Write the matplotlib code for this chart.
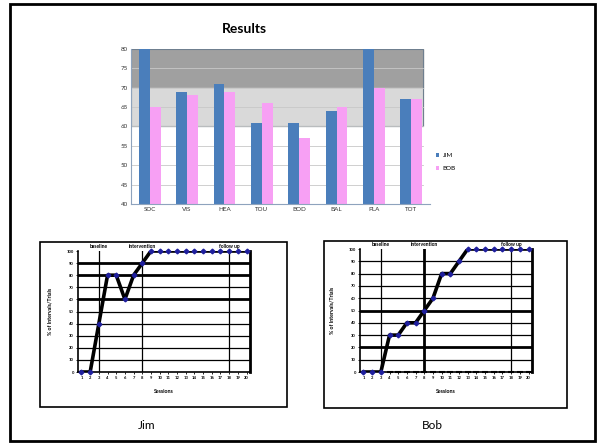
import matplotlib.pyplot as plt
from matplotlib.patches import Rectangle
import numpy as np

W, H = 602, 444

# wyniki w obszarach
categories = ['SOC', 'VIS', 'HEA', 'TOU', 'BOD', 'BAL', 'PLA', 'TOT']
jim_scores = [80, 69, 71, 61, 61, 64, 80, 67]
bob_scores = [65, 68, 69, 66, 57, 65, 70, 67]

# sesje i procent interwalow
sessions = list(range(1, 21))
jim_pct = [0, 0, 40, 80, 80, 60, 80, 90, 100, 100,
           100, 100, 100, 100, 100, 100, 100, 100, 100, 100]
bob_pct = [0, 0, 0, 30, 30, 40, 40, 50, 60, 80,
           80, 90, 100, 100, 100, 100, 100, 100, 100, 100]
bob_zero_sessions = list(range(4, 21))
bob_zero = [0] * len(bob_zero_sessions)

phase_names = ['baseline', 'intervention', 'follow up']
phase_starts = [3, 8, 18]

plt.rcParams['font.family'] = ['Lato', 'DejaVu Sans']

fig = plt.figure(figsize=(W / 100, H / 100), dpi=100)


def px_axes(x0, y0, x1, y1):
    return fig.add_axes([x0 / W, 1 - y1 / H, (x1 - x0) / W, (y1 - y0) / H])


def px_rect(x0, y0, x1, y1, lw, color='black'):
    fig.patches.append(Rectangle((x0 / W, 1 - y1 / H), (x1 - x0) / W, (y1 - y0) / H,
                                 transform=fig.transFigure, fill=False,
                                 edgecolor=color, linewidth=lw))


# ramka calosci i ramki wykresow
px_rect(10, 4, 595, 441, 2.0)
px_rect(40, 242, 287, 407, 1.2)
px_rect(324, 241, 567, 408, 1.2)

# --- wykres slupkowy ---
ax = px_axes(131, 49, 430, 204)
x = np.arange(len(categories))
bw = 0.29
ax.axhspan(70, 80, xmin=0, xmax=0.975, color='#a0a0a0', zorder=0)
ax.axhspan(60, 70, xmin=0, xmax=0.975, color='#d9d9d9', zorder=0)
ax.add_patch(Rectangle((-0.5, 60), 7.8, 20, fill=False, edgecolor='#6f7f8f', lw=0.8, zorder=1))
for yv in range(45, 80, 5):
    ax.plot([-0.5, 7.3], [yv, yv], color='#c8c8c8', lw=0.6, zorder=1)
ax.bar(x - bw / 2, jim_scores, bw, color='#4a7ebb', label='JIM', zorder=2)
ax.bar(x + bw / 2, bob_scores, bw, color='#f7a0f4', label='BOB', zorder=2)
ax.set_xlim(-0.5, 7.5)
ax.set_ylim(40, 80)
ax.set_yticks(range(40, 81, 5))
ax.set_xticks(x)
ax.set_xticklabels(categories)
ax.tick_params(labelsize=4.5, length=0, colors='#333333', pad=2)
for s in ['top', 'right']:
    ax.spines[s].set_visible(False)
ax.spines['left'].set_color('#8ea3bd')
ax.spines['bottom'].set_color('#8ea3bd')
ax.legend(loc='center left', bbox_to_anchor=(1.0, 0.27), fontsize=4.5, frameon=False,
          handlelength=0.6, handleheight=0.6, labelspacing=1.2, handletextpad=0.5)
fig.text(244 / W, 1 - 29 / H, 'Results', ha='center', va='center', fontsize=10,
         fontweight='bold')


# --- wykresy liniowe ---
def session_chart(box, values, thick, phase_lw):
    a = px_axes(*box)
    a.set_xlim(0.6, 20.4)
    a.set_ylim(0, 100)
    for yv in range(10, 100, 10):
        a.axhline(yv, color='black', lw=2.0 if yv in thick else 0.9, zorder=1)
    for xs, lw in zip(phase_starts, phase_lw):
        a.axvline(xs, color='black', lw=lw, zorder=1)
    for name, xs in zip(phase_names, phase_starts):
        a.text(xs, 101.5, name, ha='center', va='bottom', fontsize=3.6, fontweight='bold')
    a.plot(sessions, values, color='black', lw=2.6, zorder=3)
    a.plot(sessions, values, ls='none', marker='D', ms=2.4, color='#1f1f9e', zorder=4,
           clip_on=False)
    a.set_xticks(sessions)
    a.set_yticks(range(0, 101, 10))
    a.tick_params(labelsize=3, length=1.5, width=0.6, pad=1.5)
    for lab in a.get_xticklabels() + a.get_yticklabels():
        lab.set_fontweight('bold')
    a.spines['top'].set_visible(False)
    a.spines['right'].set_linewidth(2.0)
    a.spines['left'].set_linewidth(1.2)
    a.spines['bottom'].set_linewidth(1.2)
    a.set_xlabel('Sessions', fontsize=3.8, fontweight='bold', labelpad=6)
    a.set_ylabel('% of Intervals/Trials', fontsize=3.8, fontweight='bold', labelpad=10)
    return a


session_chart((78, 251, 250, 372), jim_pct, thick=[60, 80, 90], phase_lw=[0.9, 0.9, 0.9])
bx = session_chart((360, 249, 532, 372), bob_pct, thick=[20, 50], phase_lw=[0.9, 2.0, 0.9])
bx.plot(bob_zero_sessions, bob_zero, ls='none', marker='_', ms=5, mew=1.5, color='black',
        zorder=3, clip_on=False)

fig.text(147 / W, 1 - 425 / H, 'Jim', ha='center', va='center', fontsize=8.5)
fig.text(432 / W, 1 - 425 / H, 'Bob', ha='center', va='center', fontsize=8.5)

fig.savefig('out.png', dpi=100)
